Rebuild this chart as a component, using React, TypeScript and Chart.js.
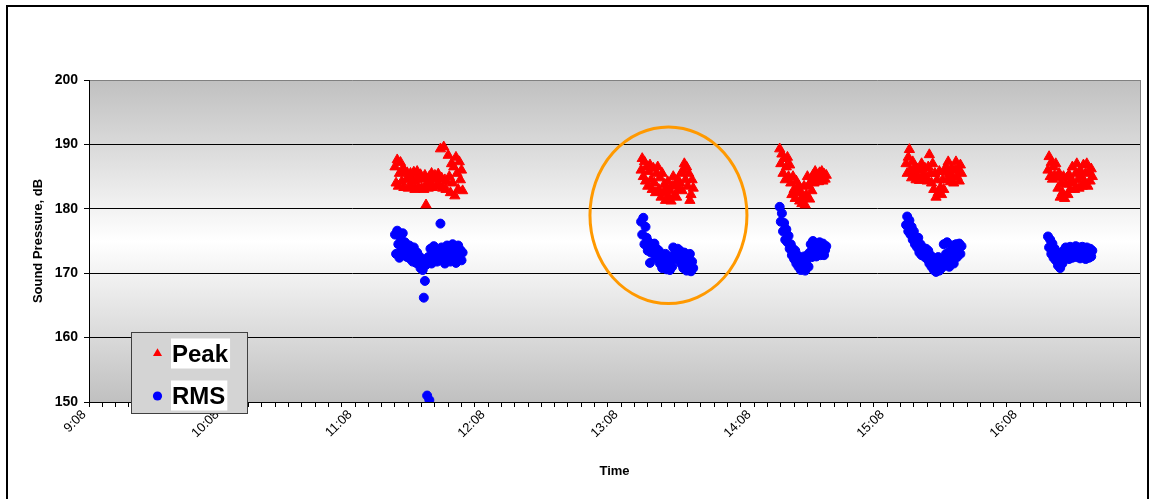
import React, { useEffect, useRef } from "react";
import { Chart, registerables } from "chart.js";

Chart.register(...registerables);

const FONT = "'Liberation Sans', Arial, Helvetica, sans-serif";

// Axis settings (time axis measured in minutes after the axis start)
const AXIS_START = "9:08";
const AXIS_SPAN_MIN = 474;
const MINOR_STEP_MIN = 6;
const MAJOR_STEP_MIN = 60;
const Y_MIN = 150;
const Y_MAX = 200;
const Y_STEP = 10;

const X_TITLE = "Time";
const Y_TITLE = "Sound Pressure, dB";
const SERIES_NAMES = ["Peak", "RMS"];

// Session 1
const session1Times = ["11:26:00","11:26:30","11:27:00","11:27:30","11:28:00","11:28:30","11:29:00","11:29:30","11:30:00","11:30:30","11:31:00","11:31:30","11:32:00","11:32:30","11:33:00","11:33:30","11:34:00","11:34:30","11:35:00","11:35:30","11:36:00","11:36:30","11:37:00","11:37:30","11:38:00","11:38:30","11:39:00","11:39:30","11:40:00","11:40:30","11:41:00","11:41:30","11:42:00","11:42:30","11:43:00","11:43:30","11:44:00","11:44:30","11:45:00","11:45:30","11:46:00","11:46:30","11:47:00","11:47:30","11:48:00","11:48:30","11:49:00","11:49:30","11:50:00","11:50:30","11:51:00","11:51:30","11:52:00","11:52:30","11:53:00","11:53:30","11:54:00","11:54:30","11:55:00","11:55:30","11:56:00","11:56:30"];
const session1Peak = [186.5,184.0,187.6,183.5,185.5,187.2,184.2,186.2,183.3,185.8,184.5,185.6,183.2,184.8,185.5,183.5,184.3,185.7,183.0,184.6,185.8,183.4,184.8,185.3,183.2,184.6,183.0,185.2,180.6,184.0,183.2,185.0,184.0,185.5,183.3,184.6,185.2,183.5,184.8,185.4,183.6,189.3,184.8,183.2,189.6,184.5,183.0,184.2,188.3,185.0,182.5,187.0,184.0,186.5,182.0,188.0,185.5,183.0,187.3,184.5,186.0,182.8];
const session1Rms = [176.0,173.0,176.6,174.5,172.4,175.5,173.5,176.2,172.8,174.8,174.5,172.5,173.8,174.3,172.2,173.5,171.8,174.0,172.8,171.6,173.2,171.5,172.6,170.8,172.2,170.5,166.2,168.8,171.3,151.0,172.5,150.3,173.8,171.5,173.0,174.2,172.0,173.5,171.8,173.2,172.5,177.7,174.0,172.2,173.6,171.5,173.0,174.3,172.5,174.2,171.8,173.5,174.5,172.2,173.8,171.6,173.0,174.3,172.4,173.6,172.0,173.2];

// Session 2
const session2Times = ["13:17:00","13:17:30","13:18:00","13:18:30","13:19:00","13:19:30","13:20:00","13:20:30","13:21:00","13:21:30","13:22:00","13:22:30","13:23:00","13:23:30","13:24:00","13:24:30","13:25:00","13:25:30","13:26:00","13:26:30","13:27:00","13:27:30","13:28:00","13:28:30","13:29:00","13:29:30","13:30:00","13:30:30","13:31:00","13:31:30","13:32:00","13:32:30","13:33:00","13:33:30","13:34:00","13:34:30","13:35:00","13:35:30","13:36:00","13:36:30","13:37:00","13:37:30","13:38:00","13:38:30","13:39:00","13:39:30","13:40:00","13:40:30"];
const session2Peak = [186.0,187.8,185.0,187.3,184.3,186.5,183.5,185.8,186.8,184.5,183.0,186.3,184.0,182.5,185.5,186.5,183.0,184.8,181.8,185.5,182.5,183.8,181.3,183.0,184.2,181.8,182.8,181.2,183.5,185.0,182.0,183.8,181.8,184.5,183.0,184.0,185.5,182.8,186.0,187.0,184.5,186.5,183.5,185.5,181.3,182.2,184.5,183.2];
const session2Rms = [178.0,176.0,178.6,174.5,177.2,175.5,173.5,174.8,171.6,173.2,174.5,173.5,174.6,172.5,173.8,172.2,173.5,171.5,172.8,170.8,172.3,171.2,173.0,170.6,172.2,171.5,170.5,172.6,171.0,174.0,172.5,173.6,172.2,173.8,172.8,173.5,171.5,172.8,170.8,173.2,171.8,170.4,172.5,171.2,173.0,170.3,171.8,170.8];

// Session 3
const session3Times = ["14:19:30","14:20:00","14:20:30","14:21:00","14:21:30","14:22:00","14:22:30","14:23:00","14:23:30","14:24:00","14:24:30","14:25:00","14:25:30","14:26:00","14:26:30","14:27:00","14:27:30","14:28:00","14:28:30","14:29:00","14:29:30","14:30:00","14:30:30","14:31:00","14:31:30","14:32:00","14:32:30","14:33:00","14:33:30","14:34:00","14:34:30","14:35:00","14:35:30","14:36:00","14:36:30","14:37:00","14:37:30","14:38:00","14:38:30","14:39:00","14:39:30","14:40:00","14:40:30"];
const session3Peak = [189.3,187.0,188.5,185.5,187.8,184.5,186.5,188.0,185.0,186.8,184.0,182.2,185.0,183.0,181.6,184.3,182.5,183.6,181.2,182.6,180.8,181.8,183.5,180.6,182.2,185.0,183.6,181.5,184.2,182.8,185.2,184.0,185.8,184.5,185.0,184.2,185.6,184.8,185.8,184.3,185.4,184.6,185.2];
const session3Rms = [180.3,178.0,179.3,176.5,177.8,175.2,176.8,174.8,175.8,173.8,174.5,172.8,173.8,172.2,173.5,171.5,172.8,171.0,172.2,170.5,171.8,170.8,172.6,170.4,171.5,172.8,171.0,173.2,174.5,172.5,175.0,173.2,174.5,172.6,174.0,173.0,174.8,172.8,173.8,174.6,172.8,173.6,174.2];

// Session 4
const session4Times = ["15:16:30","15:17:00","15:17:30","15:18:00","15:18:30","15:19:00","15:19:30","15:20:00","15:20:30","15:21:00","15:21:30","15:22:00","15:22:30","15:23:00","15:23:30","15:24:00","15:24:30","15:25:00","15:25:30","15:26:00","15:26:30","15:27:00","15:27:30","15:28:00","15:28:30","15:29:00","15:29:30","15:30:00","15:30:30","15:31:00","15:31:30","15:32:00","15:32:30","15:33:00","15:33:30","15:34:00","15:34:30","15:35:00","15:35:30","15:36:00","15:36:30","15:37:00","15:37:30","15:38:00","15:38:30","15:39:00","15:39:30","15:40:00","15:40:30","15:41:00","15:41:30"];
const session4Peak = [187.0,185.5,188.0,189.2,186.0,184.8,187.3,185.3,186.5,184.5,186.2,185.0,184.4,186.0,187.0,185.2,184.5,186.3,185.0,184.3,186.5,188.4,185.5,184.0,187.0,183.0,185.5,181.8,184.5,182.5,185.8,183.3,182.2,184.5,183.0,185.8,186.5,184.5,187.3,185.5,184.2,186.3,185.0,184.0,186.0,187.3,185.0,186.2,184.3,186.8,185.5];
const session4Rms = [177.5,178.8,176.5,178.2,176.0,177.2,175.2,176.5,174.5,175.6,174.0,175.5,173.2,174.5,172.8,174.0,173.5,172.5,173.8,172.2,173.5,171.5,172.8,171.0,172.4,170.5,171.8,170.2,171.2,172.5,170.4,171.6,170.8,172.0,174.5,171.2,173.0,174.8,172.2,171.0,173.5,172.0,174.3,171.5,173.2,174.5,172.5,173.8,174.6,173.0,174.2];

// Session 5
const session5Times = ["16:20:30","16:21:00","16:21:30","16:22:00","16:22:30","16:23:00","16:23:30","16:24:00","16:24:30","16:25:00","16:25:30","16:26:00","16:26:30","16:27:00","16:27:30","16:28:00","16:28:30","16:29:00","16:29:30","16:30:00","16:30:30","16:31:00","16:31:30","16:32:00","16:32:30","16:33:00","16:33:30","16:34:00","16:34:30","16:35:00","16:35:30","16:36:00","16:36:30","16:37:00","16:37:30","16:38:00","16:38:30","16:39:00","16:39:30","16:40:00","16:40:30"];
const session5Peak = [186.0,188.1,185.0,187.2,184.6,186.5,185.2,187.0,184.8,183.2,185.5,181.8,184.0,182.5,185.0,181.6,183.8,184.8,182.2,185.3,183.0,184.3,186.5,184.0,183.0,185.5,187.0,184.5,183.2,186.0,185.0,183.5,186.8,184.2,185.5,187.0,183.5,185.8,184.3,186.2,185.0];
const session5Rms = [175.7,174.0,175.2,173.0,174.6,172.4,173.8,172.0,173.2,171.2,172.6,170.8,172.0,171.5,173.5,172.2,174.0,172.6,173.6,172.2,174.1,173.0,172.4,173.8,172.8,174.2,172.5,173.5,174.0,172.3,173.2,174.1,172.6,173.6,172.2,174.0,173.0,172.4,173.8,172.6,173.5];

// Highlight ellipse (in data units)
const highlightCenterTime = "13:29:20";
const highlightCenterDb = 179;
const highlightHalfWidthMin = 35.4;
const highlightHalfHeightDb = 13.7;

const sessions = [
  { times: session1Times, peak: session1Peak, rms: session1Rms },
  { times: session2Times, peak: session2Peak, rms: session2Rms },
  { times: session3Times, peak: session3Peak, rms: session3Rms },
  { times: session4Times, peak: session4Peak, rms: session4Rms },
  { times: session5Times, peak: session5Peak, rms: session5Rms },
];

function toMinutes(s: string): number {
  const p = s.split(":").map(Number);
  return p[0] * 60 + p[1] + (p[2] || 0) / 60;
}
const startMin = toMinutes(AXIS_START);
const toOffset = (s: string) => toMinutes(s) - startMin;

function formatClock(offset: number): string {
  const m = Math.round(startMin + offset);
  return `${Math.floor(m / 60)}:${String(m % 60).padStart(2, "0")}`;
}

const peakPoints: { x: number; y: number }[] = [];
const rmsPoints: { x: number; y: number }[] = [];
sessions.forEach((s) => {
  s.times.forEach((t, i) => {
    peakPoints.push({ x: toOffset(t), y: s.peak[i] });
    rmsPoints.push({ x: toOffset(t), y: s.rms[i] });
  });
});

const framePlugin = {
  id: "frame",
  beforeDraw(chart: any) {
    const { ctx, chartArea: a, width, height } = chart;
    ctx.save();
    ctx.fillStyle = "#ffffff";
    ctx.fillRect(0, 0, width, height);
    const g = ctx.createLinearGradient(0, a.top, 0, a.bottom);
    g.addColorStop(0, "#c0c0c0");
    g.addColorStop(0.5, "#ffffff");
    g.addColorStop(1, "#c0c0c0");
    ctx.fillStyle = g;
    ctx.fillRect(a.left, a.top, a.right - a.left, a.bottom - a.top);
    ctx.restore();
  },
  beforeDatasetsDraw(chart: any) {
    const { ctx, chartArea: a } = chart;
    ctx.save();
    ctx.strokeStyle = "#808080";
    ctx.lineWidth = 1;
    ctx.beginPath();
    ctx.moveTo(Math.round(a.right) + 0.5, a.top);
    ctx.lineTo(Math.round(a.right) + 0.5, a.bottom);
    ctx.stroke();
    ctx.restore();
  },
  afterDraw(chart: any) {
    const { ctx } = chart;
    ctx.save();
    ctx.strokeStyle = "#000000";
    ctx.lineWidth = 2;
    ctx.strokeRect(7, 6, 1141, 520);
    ctx.restore();
  },
};

const highlightPlugin = {
  id: "highlight",
  afterDatasetsDraw(chart: any) {
    const { ctx, scales } = chart;
    const xs = scales.x;
    const ys = scales.y;
    const c = toOffset(highlightCenterTime);
    const cx = xs.getPixelForValue(c);
    const rx = xs.getPixelForValue(c + highlightHalfWidthMin) - cx;
    const cy = ys.getPixelForValue(highlightCenterDb);
    const ry = cy - ys.getPixelForValue(highlightCenterDb + highlightHalfHeightDb);
    ctx.save();
    ctx.strokeStyle = "#FF9900";
    ctx.lineWidth = 3;
    ctx.beginPath();
    ctx.ellipse(cx, cy, rx, ry, 0, 0, Math.PI * 2);
    ctx.stroke();
    ctx.restore();
  },
};

const legendPlugin = {
  id: "boxLegend",
  afterDraw(chart: any) {
    const { ctx } = chart;
    const bx = 131.5, by = 332.5, bw = 116, bh = 81;
    ctx.save();
    ctx.fillStyle = "#d4d4d4";
    ctx.fillRect(bx, by, bw, bh);
    ctx.strokeStyle = "#404040";
    ctx.lineWidth = 1;
    ctx.strokeRect(bx, by, bw, bh);
    ctx.font = `bold 24px ${FONT}`;
    ctx.textBaseline = "alphabetic";
    ctx.textAlign = "left";
    chart.data.datasets.forEach((ds: any, i: number) => {
      const cy = 353.5 + i * 42;
      const mx = 157.5;
      ctx.fillStyle = ds.backgroundColor;
      ctx.beginPath();
      if (ds.pointStyle === "triangle") {
        const r = 5.2;
        ctx.moveTo(mx, cy - r);
        ctx.lineTo(mx + r * 0.866, cy + r * 0.5);
        ctx.lineTo(mx - r * 0.866, cy + r * 0.5);
        ctx.closePath();
      } else {
        ctx.arc(mx, cy + 0.5, 4.6, 0, Math.PI * 2);
      }
      ctx.fill();
      const w = ctx.measureText(ds.label).width;
      ctx.fillStyle = "#ffffff";
      ctx.fillRect(171, cy - 15, w + 3, 30);
      ctx.fillStyle = "#000000";
      ctx.fillText(ds.label, 172, cy + 8.5);
    });
    ctx.restore();
  },
};

export default function App() {
  const ref = useRef<HTMLCanvasElement>(null);
  useEffect(() => {
    if (!ref.current) return;
    const chart = new Chart(ref.current, {
      type: "scatter",
      data: {
        datasets: [
          {
            label: SERIES_NAMES[0],
            data: peakPoints,
            pointStyle: "triangle",
            pointRadius: 5.9,
            backgroundColor: "#FF0000",
            borderColor: "#FF0000",
            borderWidth: 1,
          },
          {
            label: SERIES_NAMES[1],
            data: rmsPoints,
            pointStyle: "circle",
            pointRadius: 4.5,
            backgroundColor: "#0000FF",
            borderColor: "#0000FF",
            borderWidth: 1,
          },
        ],
      },
      options: {
        responsive: false,
        animation: false,
        events: [],
        layout: { padding: { top: 80, right: 14, left: 0, bottom: 0 } },
        plugins: { legend: { display: false }, tooltip: { enabled: false } },
        scales: {
          x: {
            type: "linear",
            min: 0,
            max: AXIS_SPAN_MIN,
            afterFit(s: any) {
              s.height = 97;
            },
            ticks: {
              stepSize: MINOR_STEP_MIN,
              autoSkip: false,
              minRotation: 45,
              maxRotation: 45,
              padding: 0,
              labelOffset: -5,
              color: "#000000",
              font: { family: FONT, size: 13 },
              callback: (v: any) => {
                const n = Number(v);
                return Math.abs(n % MAJOR_STEP_MIN) < 1e-6 ? formatClock(n) : "";
              },
            },
            grid: { drawOnChartArea: false, drawTicks: true, tickLength: 5, color: "#000000" },
            border: { display: true, color: "#000000", width: 1 },
            title: {
              display: true,
              text: X_TITLE,
              color: "#000000",
              font: { family: FONT, size: 13, weight: "bold" },
              padding: { top: 0, bottom: 20 },
            },
          },
          y: {
            min: Y_MIN,
            max: Y_MAX,
            afterFit(s: any) {
              s.width = 89;
            },
            ticks: {
              stepSize: Y_STEP,
              padding: 6,
              color: "#000000",
              font: { family: FONT, size: 14, weight: "bold" },
            },
            grid: {
              color: (c: any) => (c.tick && c.tick.value === Y_MAX ? "#808080" : "#000000"),
              tickColor: "#000000",
              tickLength: 5,
            },
            border: { display: true, color: "#000000", width: 1 },
            title: {
              display: true,
              text: Y_TITLE,
              color: "#000000",
              font: { family: FONT, size: 13, weight: "bold" },
              padding: { top: 31, bottom: 0 },
            },
          },
        },
      } as any,
      plugins: [framePlugin, highlightPlugin, legendPlugin],
    });
    return () => chart.destroy();
  }, []);
  return (
    <div style={{ position: "fixed", left: 0, top: 0, width: 1154, height: 499, background: "#fff" }}>
      <canvas ref={ref} width={1154} height={499} style={{ display: "block" }} />
    </div>
  );
}
